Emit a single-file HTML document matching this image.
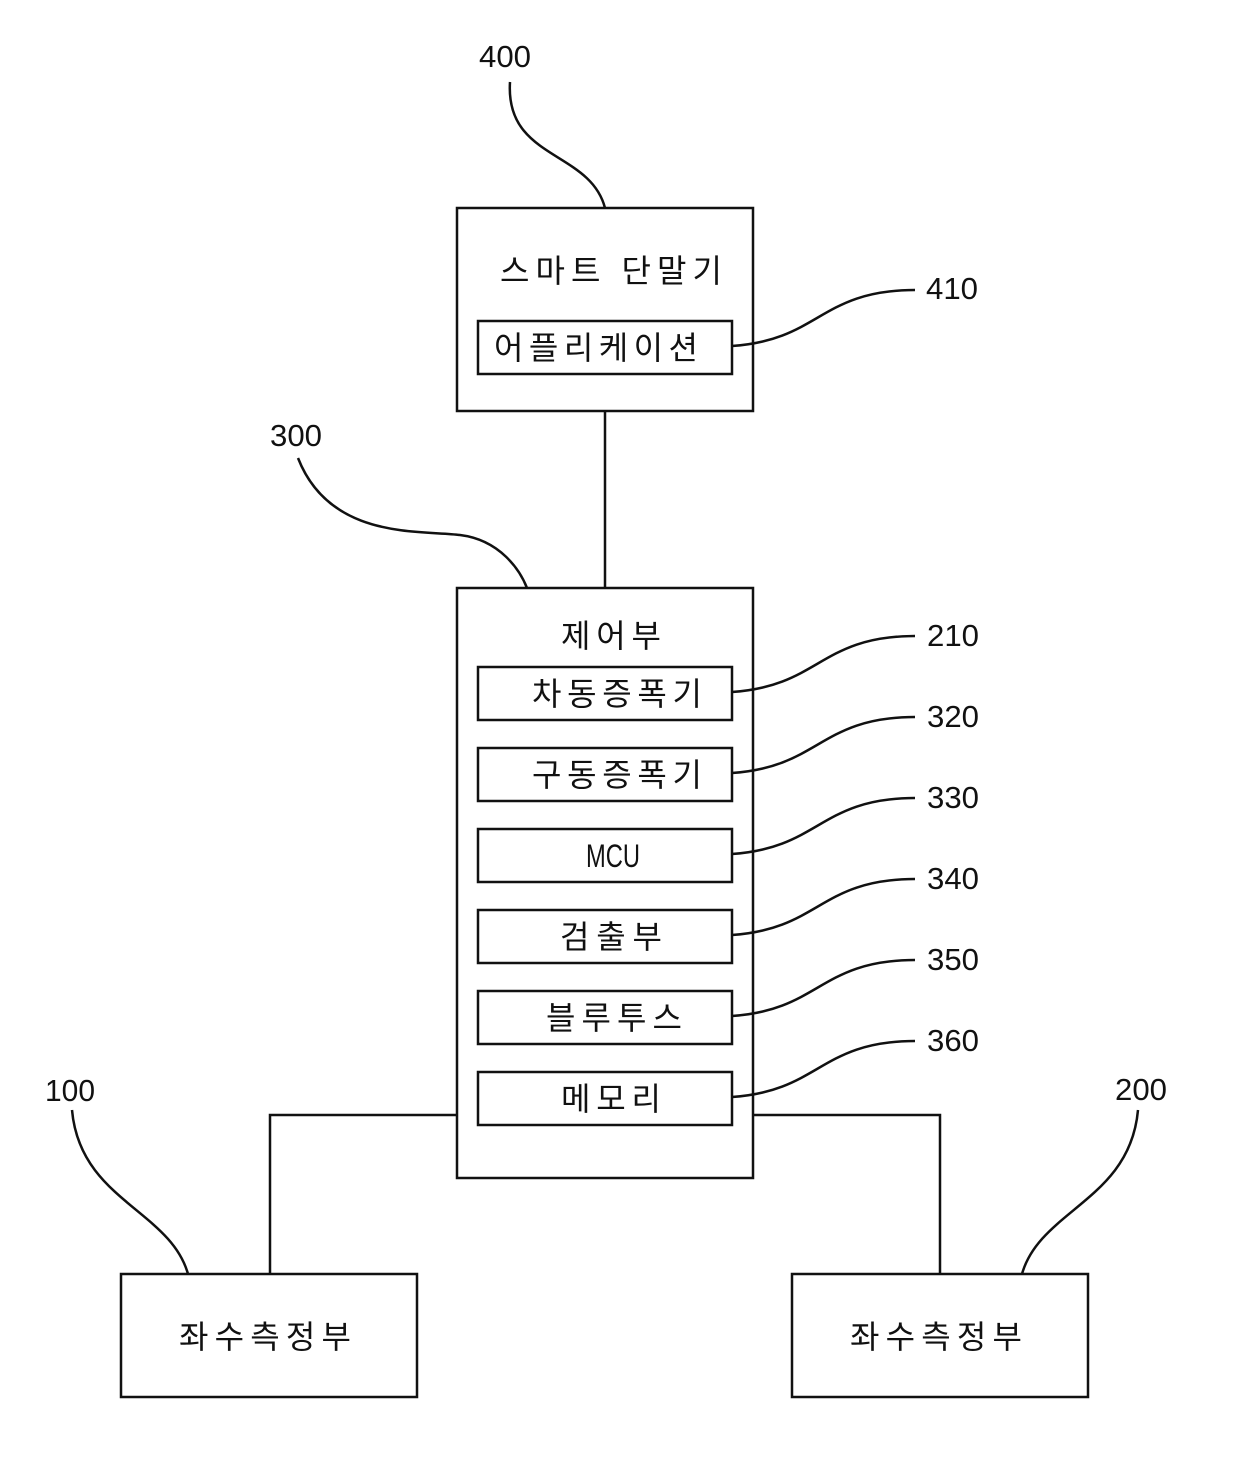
<!DOCTYPE html>
<html><head><meta charset="utf-8"><style>
html,body{margin:0;padding:0;background:#fff;}
svg{display:block;}
text{font-family:"Liberation Sans","Noto Sans CJK KR","NanumGothic",sans-serif;fill:#111;}
.k{font-size:32px;}
.n{font-size:31px;}
</style></head><body>
<svg width="1240" height="1474" viewBox="0 0 1240 1474" xmlns="http://www.w3.org/2000/svg">
<g fill="none" stroke="#111" stroke-width="2.5">
<rect x="457" y="208" width="296" height="203"/>
<rect x="478" y="321" width="254" height="53"/>
<rect x="457" y="588" width="296" height="590"/>
<rect x="478" y="667" width="254" height="53"/>
<rect x="478" y="748" width="254" height="53"/>
<rect x="478" y="829" width="254" height="53"/>
<rect x="478" y="910" width="254" height="53"/>
<rect x="478" y="991" width="254" height="53"/>
<rect x="478" y="1072" width="254" height="53"/>
<rect x="121" y="1274" width="296" height="123"/>
<rect x="792" y="1274" width="296" height="123"/>
<line x1="605" y1="411" x2="605" y2="588"/>
<polyline points="457,1115 270,1115 270,1274"/>
<polyline points="753,1115 940,1115 940,1274"/>
<path d="M510,82 C505,160 590,150 605,208"/>
<path d="M732,346 C820,340 820,290 915,290"/>
<path d="M298,458 C330,540 420,530 460,535 C500,540 520,570 527,588"/>
<path d="M732,692 C820,686 820,636 915,636"/>
<path d="M732,773 C820,767 820,717 915,717"/>
<path d="M732,854 C820,848 820,798 915,798"/>
<path d="M732,935 C820,929 820,879 915,879"/>
<path d="M732,1016 C820,1010 820,960 915,960"/>
<path d="M732,1097 C820,1091 820,1041 915,1041"/>
<path d="M72,1110 C80,1200 170,1210 188,1274"/>
<path d="M1138,1110 C1130,1200 1040,1210 1022,1274"/>
</g>
<g lengthAdjust="spacingAndGlyphs">
<text class="n" x="505" y="67" text-anchor="middle" textLength="52" lengthAdjust="spacingAndGlyphs">400</text>
<text class="n" x="952" y="299" text-anchor="middle" textLength="52" lengthAdjust="spacingAndGlyphs">410</text>
<text class="n" x="296" y="446" text-anchor="middle" textLength="52" lengthAdjust="spacingAndGlyphs">300</text>
<text class="n" x="953" y="646" text-anchor="middle" textLength="52" lengthAdjust="spacingAndGlyphs">210</text>
<text class="n" x="953" y="727" text-anchor="middle" textLength="52" lengthAdjust="spacingAndGlyphs">320</text>
<text class="n" x="953" y="808" text-anchor="middle" textLength="52" lengthAdjust="spacingAndGlyphs">330</text>
<text class="n" x="953" y="889" text-anchor="middle" textLength="52" lengthAdjust="spacingAndGlyphs">340</text>
<text class="n" x="953" y="970" text-anchor="middle" textLength="52" lengthAdjust="spacingAndGlyphs">350</text>
<text class="n" x="953" y="1051" text-anchor="middle" textLength="52" lengthAdjust="spacingAndGlyphs">360</text>
<text class="n" x="70" y="1101" text-anchor="middle" textLength="50" lengthAdjust="spacingAndGlyphs">100</text>
<text class="n" x="1141" y="1100" text-anchor="middle" textLength="52" lengthAdjust="spacingAndGlyphs">200</text>
</g>
<text class="k" x="611" y="282" text-anchor="middle" textLength="222">스마트 단말기</text>
<text class="k" x="596" y="359" text-anchor="middle" textLength="204">어플리케이션</text>
<text class="k" x="611" y="647" text-anchor="middle" textLength="100">제어부</text>
<text class="k" x="617" y="705" text-anchor="middle" textLength="170">차동증폭기</text>
<text class="k" x="617" y="786" text-anchor="middle" textLength="170">구동증폭기</text>
<text class="k" x="613" y="867" text-anchor="middle" textLength="54" lengthAdjust="spacingAndGlyphs">MCU</text>
<text class="k" x="611" y="948" text-anchor="middle" textLength="102">검출부</text>
<text class="k" x="614" y="1029" text-anchor="middle" textLength="136">블루투스</text>
<text class="k" x="611" y="1110" text-anchor="middle" textLength="100">메모리</text>
<text class="k" x="265" y="1348" text-anchor="middle" textLength="172">좌수측정부</text>
<text class="k" x="936" y="1348" text-anchor="middle" textLength="172">좌수측정부</text>
</svg>
</body></html>
